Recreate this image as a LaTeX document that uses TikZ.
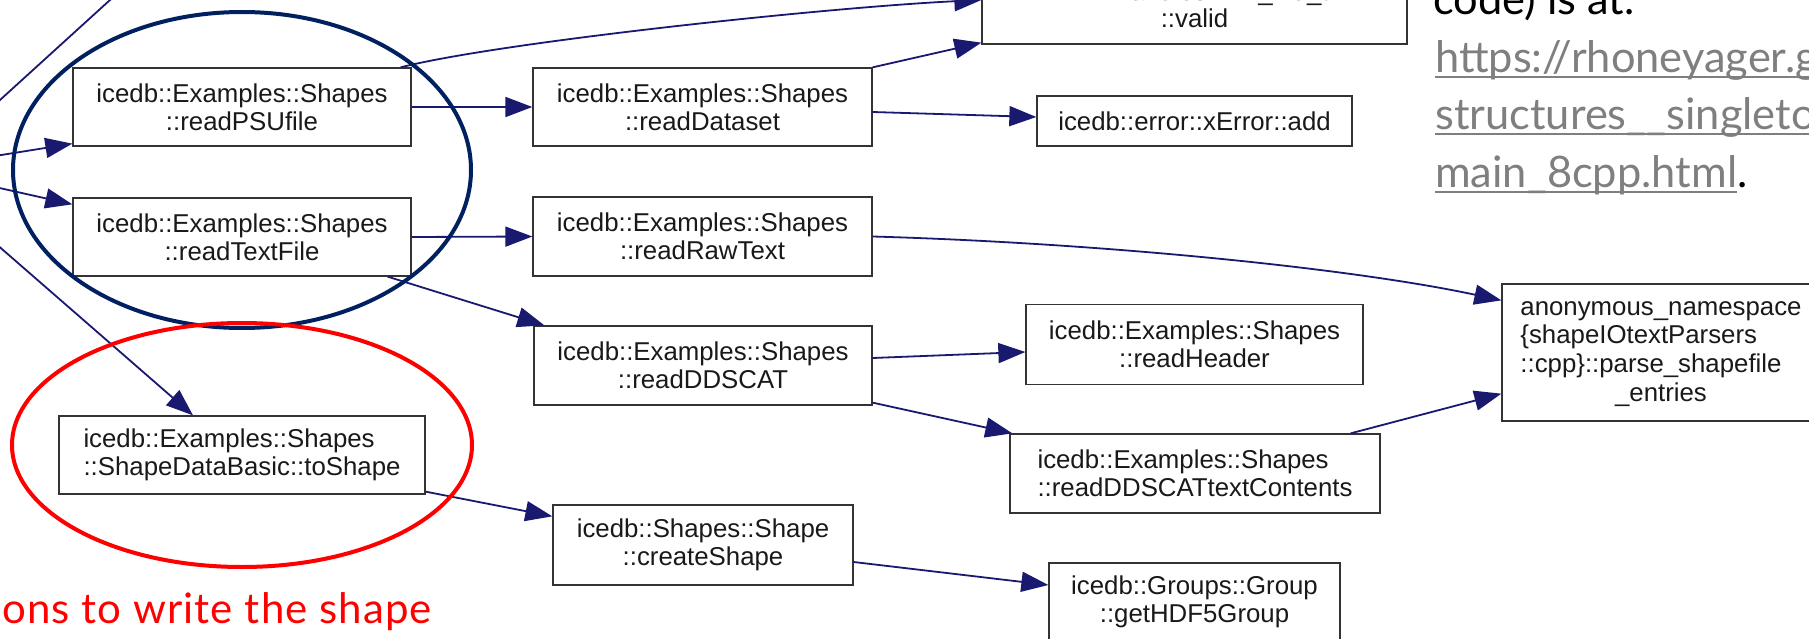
\documentclass[tikz,border=0pt]{standalone}
\usepackage{fontspec}
\setmainfont{Liberation Sans}
\newfontfamily\boxfont{Liberation Sans}
\newfontfamily\slidefont{Lato}
\newfontfamily\redfont[LetterSpace=2.5]{Lato}
\usetikzlibrary{arrows.meta,calc}
\definecolor{edgeblue}{HTML}{191970}
\definecolor{navyring}{HTML}{002060}
\definecolor{urlgray}{HTML}{7F7F7F}
\newlength\ulwidth
\newcommand\ulgray[1]{\settowidth{\ulwidth}{#1}\rlap{\color{urlgray}\rule[-5.5pt]{\ulwidth}{2.5pt}}{\color{urlgray}#1}}
\tikzset{
  fbox/.style={draw=black!80, line width=1.3pt, fill=white, inner sep=0pt,
    font=\boxfont\fontsize{25.8}{28}\selectfont, align=center, text=black!90},
  edge/.style={draw=edgeblue, line width=1.8pt, -{Triangle[length=27pt,width=20pt]}},
  stub/.style={draw=edgeblue, line width=1.8pt},
  slidetext/.style={inner sep=0pt, font=\slidefont\fontsize{43.4}{57}\selectfont},
  redtext/.style={inner sep=0pt, text=red, font=\redfont\fontsize{42}{48}\selectfont},
  ring/.style={line width=4pt},
}
\begin{document}
\begin{tikzpicture}[x=1pt,y=-1pt]
\useasboundingbox (0,0) rectangle (1809,639);

% boxes
\node[fbox, minimum width=338pt, minimum height=78pt] (psu) at (242,107) {icedb::Examples::Shapes\\::readPSUfile};
\node[fbox, minimum width=338pt, minimum height=78pt] (txt) at (242,237) {icedb::Examples::Shapes\\::readTextFile};
\node[fbox, minimum width=366pt, minimum height=78pt, align=left] (tos) at (242,455) {icedb::Examples::Shapes\\::ShapeDataBasic::toShape};
\node[fbox, minimum width=339pt, minimum height=78pt] (dset) at (702.5,107) {icedb::Examples::Shapes\\::readDataset};
\node[fbox, minimum width=339pt, minimum height=79pt] (raw) at (702.5,236.5) {icedb::Examples::Shapes\\::readRawText};
\node[fbox, minimum width=338pt, minimum height=79pt] (dds) at (703,365.5) {icedb::Examples::Shapes\\::readDDSCAT};
\node[fbox, minimum width=300pt, minimum height=80pt] (cre) at (703,545) {icedb::Shapes::Shape\\::createShape};
\node[fbox, minimum width=425pt, minimum height=78pt, font=\boxfont\fontsize{25.8}{27}\selectfont] (valid) at (1194.5,5) {HH::Handles::HH\_hid\_t\\::valid};
\node[fbox, minimum width=315pt, minimum height=50pt] (add) at (1194.5,121) {icedb::error::xError::add};
\node[fbox, minimum width=337pt, minimum height=80pt] (hdr) at (1194.5,344.5) {icedb::Examples::Shapes\\::readHeader};
\node[fbox, minimum width=370pt, minimum height=79pt, align=left] (dtc) at (1195,473.5) {icedb::Examples::Shapes\\::readDDSCATtextContents};
\node[fbox, minimum width=291pt, minimum height=78pt] (hdf) at (1194.5,602) {icedb::Groups::Group\\::getHDF5Group};
\node[fbox, minimum width=318pt, minimum height=137pt] (anon) at (1661,352.5) {\renewcommand\arraystretch{1.03}\begin{tabular}{@{}l@{}}anonymous\_namespace\\\{shapeIOtextParsers\\::cpp\}::parse\_shapefile\\\multicolumn{1}{@{}c@{}}{\_entries}\end{tabular}};

% free ends of edges coming from outside the picture
\coordinate (inA) at (-5,156);
\coordinate (inB) at (-5,187);
\coordinate (inC) at (-5,243);
\coordinate (inD) at (-11,110);
\coordinate (outD) at (121,-10);

% edges
\draw[edge] (inA) -- ([yshift=3pt]psu.south west);
\draw[edge] (inB) -- ([yshift=-7pt]txt.north west);
\draw[edge] (inC) -- ([xshift=-49pt]tos.north);
\draw[stub] (inD) -- (outD);
\draw[edge] (psu.east) -- (dset.west);
\draw[edge] (txt.east) -- (raw.west);
\draw[edge] ([xshift=-24pt]txt.south east) -- ([xshift=11pt]dds.north west);
\draw[edge] ([xshift=-11pt]psu.north east) .. controls (500,42) and (832,7) .. ([yshift=5pt]valid.west);
\draw[edge] (dset.north east) -- ([yshift=2pt]valid.south west);
\draw[edge] ([yshift=-5pt]dset.east) -- ([yshift=4pt]add.west);
\draw[edge] (raw.east) .. controls (1100,243) and (1350,268) .. ([yshift=-17pt]anon.north west);
\draw[edge] ([yshift=7.5pt]dds.east) -- ([yshift=-7.5pt]hdr.west);
\draw[edge] ([yshift=3pt]dds.south east) -- ([xshift=3pt]dtc.north west);
\draw[edge] ([xshift=-30pt]dtc.north east) -- ([yshift=28pt]anon.south west);
\draw[edge] ([yshift=3pt]tos.south east) -- ([yshift=-12pt]cre.north west);
\draw[edge] ([yshift=-17pt]cre.east) -- ([yshift=17pt]hdf.west);

% highlight rings
\draw[ring, navyring] (242,170) ellipse [x radius=229pt, y radius=158pt];
\draw[ring, red] (242,445) ellipse [x radius=230pt, y radius=122pt];

% slide text
\node[slidetext, anchor=base west] (t1) at (1433,15) {code) is at.};
\node[slidetext, anchor=base west] (t2) at (1435,73) {\ulgray{https://rhoneyager.github.io/}};
\node[slidetext, anchor=base west] (t3) at (1435,130) {\ulgray{structures\_\_singleton\_}};
\node[slidetext, anchor=base west] (t4) at (1435,188) {\ulgray{main\_8cpp.html}.};
\node[redtext, anchor=base east] (t5) at (432,623) {ons to write the shape};
\end{tikzpicture}
\end{document}
